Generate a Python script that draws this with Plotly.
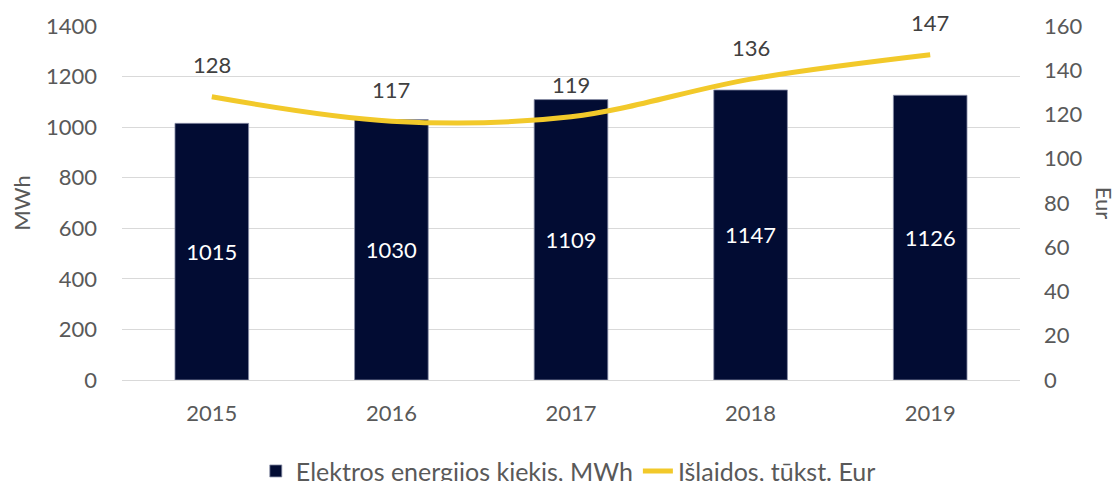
import plotly.graph_objects as go

years = ["2015", "2016", "2017", "2018", "2019"]
energy_mwh = [1015, 1030, 1109, 1147, 1126]
costs_teur = [128, 117, 119, 136, 147]
left_ticks = [0, 200, 400, 600, 800, 1000, 1200, 1400]
right_ticks = [0, 20, 40, 60, 80, 100, 120, 140, 160]

FONT = "Lato, 'Open Sans', sans-serif"
GREY = "#595959"
NAVY = "#020c33"
YELLOW = "#f2c92a"
FS = 22

fig = go.Figure()
fig.add_trace(go.Bar(
    x=years, y=energy_mwh, name="Elektros energijos kiekis, MWh",
    marker=dict(color=NAVY, line=dict(color="#8a8fa8", width=0.8)),
    text=[str(v) for v in energy_mwh], textposition="inside",
    insidetextanchor="middle", textangle=0,
    textfont=dict(color="white", size=FS, family=FONT),
    width=0.41,
))
fig.add_trace(go.Scatter(
    x=years, y=costs_teur, name="Išlaidos, tūkst. Eur", yaxis="y2",
    mode="lines", line=dict(color=YELLOW, width=5, shape="spline", smoothing=1.0),
))
for i, v in enumerate(costs_teur):
    fig.add_annotation(x=i, y=v, xref="x", yref="y2", text=str(v), showarrow=False,
                       yshift=32, font=dict(size=FS, color="#404040", family=FONT))

fig.add_annotation(xref="paper", yref="paper", x=1.095, y=0.5, text="Eur",
                   xanchor="center", yanchor="middle",
                   textangle=90, showarrow=False,
                   font=dict(size=FS, color=GREY, family=FONT))

fig.update_layout(
    width=1120, height=481,
    margin=dict(l=114, r=108, t=18, b=109, autoexpand=False),
    plot_bgcolor="white", paper_bgcolor="white",
    font=dict(family=FONT, size=FS, color=GREY),
    showlegend=True,
    legend=dict(orientation="h", x=0.497, xanchor="center", y=0.037, yanchor="middle",
                yref="container",
                font=dict(size=25, color=GREY, family=FONT), itemwidth=30,
                traceorder="normal"),
    xaxis=dict(type="category", range=[-0.5, len(years) - 0.5], showgrid=False,
               showline=True, linecolor="#d9d9d9", automargin=False,
               linewidth=1, ticks="", ticklabelstandoff=14,
               tickfont=dict(size=FS, color=GREY)),
    yaxis=dict(range=[0, 1400], tickvals=left_ticks, showgrid=True, gridcolor="#d9d9d9",
               gridwidth=1, zeroline=False, ticks="", ticklabelstandoff=24,
               automargin=False,
               title=dict(text="MWh", standoff=16, font=dict(size=FS, color=GREY)),
               tickfont=dict(size=FS, color=GREY)),
    yaxis2=dict(range=[0, 160], tickvals=right_ticks, overlaying="y", side="right",
                showgrid=False, zeroline=False, ticks="", ticklabelstandoff=23,
                automargin=False,
                tickfont=dict(size=FS, color=GREY)),
    bargap=0.59,
)

fig.write_html("out.html")
